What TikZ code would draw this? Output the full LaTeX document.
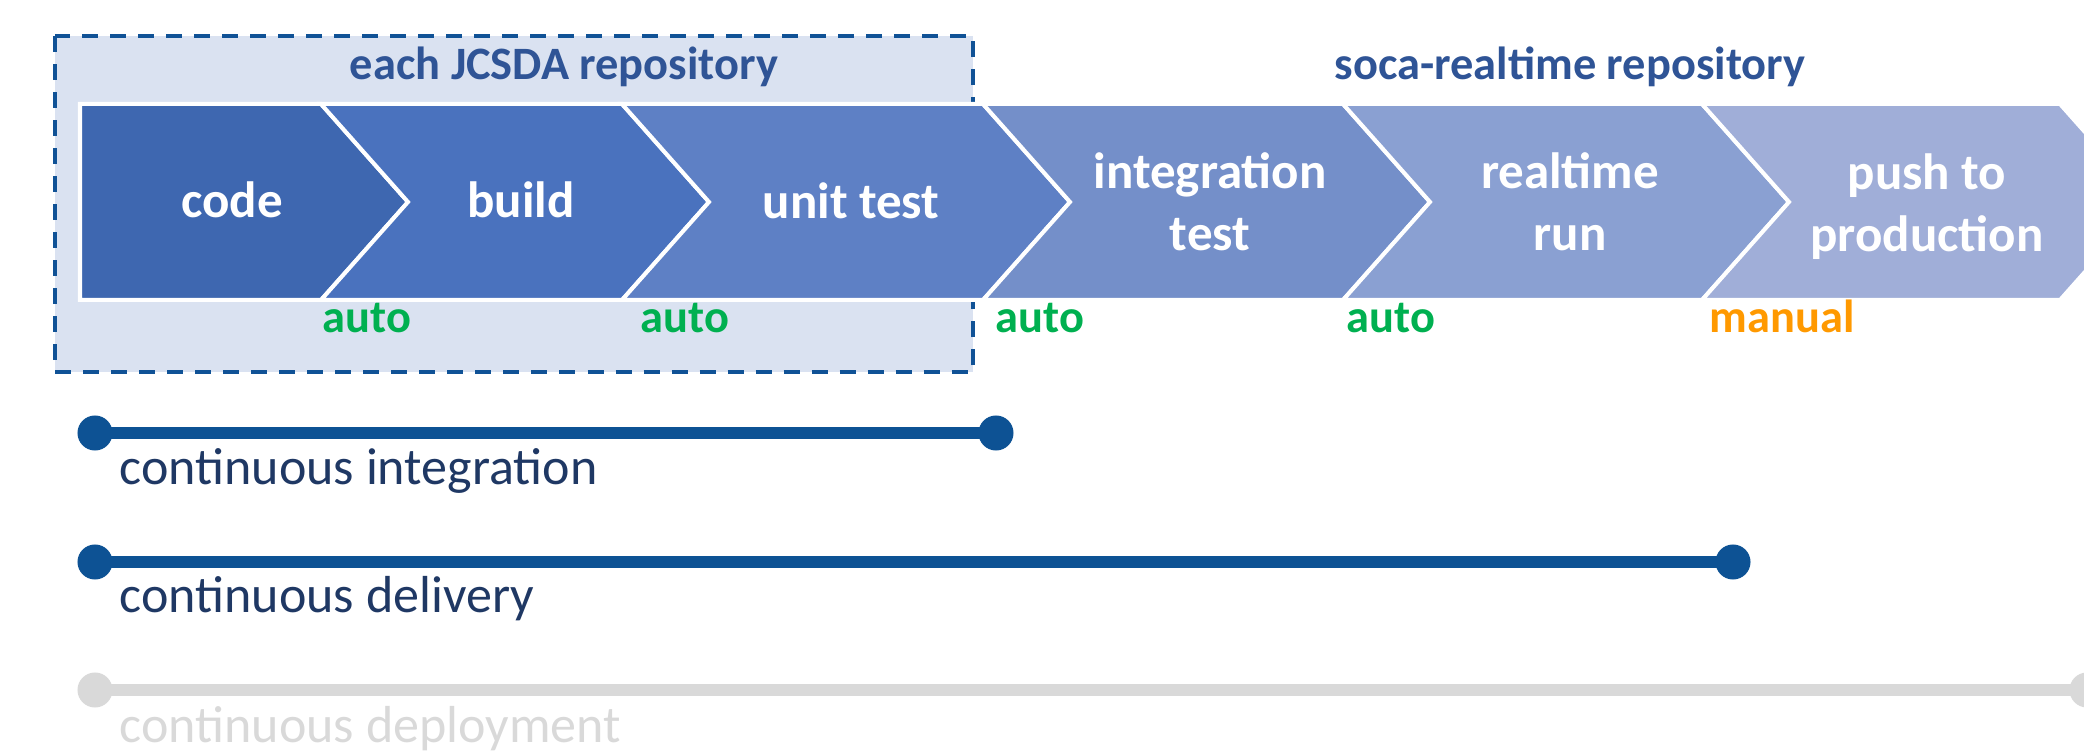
\documentclass[tikz,border=0pt]{standalone}
\usepackage{fontspec}
\setmainfont{Carlito}
\definecolor{cA}{RGB}{62,103,176}
\definecolor{cB}{RGB}{74,114,190}
\definecolor{cC}{RGB}{94,128,197}
\definecolor{cD}{RGB}{116,143,201}
\definecolor{cE}{RGB}{138,160,210}
\definecolor{cF}{RGB}{160,174,216}
\definecolor{boxfill}{RGB}{218,226,241}
\definecolor{boxline}{RGB}{16,82,150}
\definecolor{titleblue}{RGB}{47,84,150}
\definecolor{autogreen}{RGB}{0,176,80}
\definecolor{manorange}{RGB}{255,153,0}
\definecolor{barblue}{RGB}{13,82,148}
\definecolor{navytext}{RGB}{31,56,100}
\definecolor{lightgray}{RGB}{217,217,217}
\begin{document}
\begin{tikzpicture}[x=0.01cm,y=-0.01cm,
  chev/.style={draw=white,line width=0.04cm},
  chevtext/.style={text=white,font=\fontsize{14.5}{17.6}\selectfont\bfseries,align=center,inner sep=0pt},
  repotitle/.style={text=titleblue,font=\fontsize{13.2}{16}\selectfont\bfseries,inner sep=0pt,anchor=base},
  trig/.style={font=\fontsize{13.2}{16}\selectfont\bfseries,inner sep=0pt,anchor=base west},
  dot/.style={circle,inner sep=0pt,minimum size=0.35cm,fill=#1},
  bar/.style={line width=0.12cm,draw=#1},
  cilabel/.style={font=\fontsize{14.8}{18}\selectfont,inner sep=0pt,anchor=base west}]
\useasboundingbox (0,0) rectangle (2084,755);
\clip (0,0) rectangle (2084,755);
% dashed group box
\draw[fill=boxfill,draw=boxline,line width=0.04cm,dash pattern=on 0.16cm off 0.12cm] (55,36) rectangle (973,372);
% chevrons
\fill[cA,chev] (80,104) -- (321,104) -- (408,202) -- (321,300) -- (80,300) -- cycle;
\fill[cB,chev] (321,104) -- (622,104) -- (709,202) -- (622,300) -- (321,300) -- (408,202) -- cycle;
\fill[cC,chev] (622,104) -- (983,104) -- (1070,202) -- (983,300) -- (622,300) -- (709,202) -- cycle;
\fill[cD,chev] (983,104) -- (1343,104) -- (1430,202) -- (1343,300) -- (983,300) -- (1070,202) -- cycle;
\fill[cE,chev] (1343,104) -- (1702,104) -- (1789,202) -- (1702,300) -- (1343,300) -- (1430,202) -- cycle;
\fill[cF,chev] (1702,104) -- (2060,104) -- (2147,202) -- (2060,300) -- (1702,300) -- (1789,202) -- cycle;
% chevron labels
\node[chevtext,anchor=base] (code) at (232,218) {code};
\node[chevtext,anchor=base] (build) at (521,218) {build};
\node[chevtext,anchor=base] (unit) at (851,219) {unit test};
\node[chevtext] (integ) at (1210,202) {integration\\test};
\node[chevtext] (real) at (1570,202) {realtime\\run};
\node[chevtext] (push) at (1927,207) {push to\\production};
% repository titles
\node[repotitle] (jcsda) at (564,80) {each JCSDA repository};
\node[repotitle] (soca) at (1570,80) {soca-realtime repository};
% trigger labels
\node[trig,text=autogreen] (t1) at (322,333) {auto};
\node[trig,text=autogreen] (t2) at (640,333) {auto};
\node[trig,text=autogreen] (t3) at (995,333) {auto};
\node[trig,text=autogreen] (t4) at (1346,333) {auto};
\node[trig,text=manorange] (t5) at (1709,333) {manual};
% continuous integration
\node[dot=barblue] (ciA) at (95,433) {};
\node[dot=barblue] (ciB) at (996,433) {};
\draw[bar=barblue] (ciA.center) -- (ciB.center);
\node[cilabel,text=navytext] (ci) at (119,485) {continuous integration};
% continuous delivery
\node[dot=barblue] (cdA) at (95,562) {};
\node[dot=barblue] (cdB) at (1733,562) {};
\draw[bar=barblue] (cdA.center) -- (cdB.center);
\node[cilabel,text=navytext] (cd) at (119,613) {continuous delivery};
% continuous deployment
\node[dot=lightgray] (cpA) at (95,690) {};
\node[dot=lightgray] (cpB) at (2087,690) {};
\draw[bar=lightgray] (cpA.center) -- (cpB.center);
\node[cilabel,text=lightgray] (cp) at (119,742) {continuous deployment};
\end{tikzpicture}
\end{document}
